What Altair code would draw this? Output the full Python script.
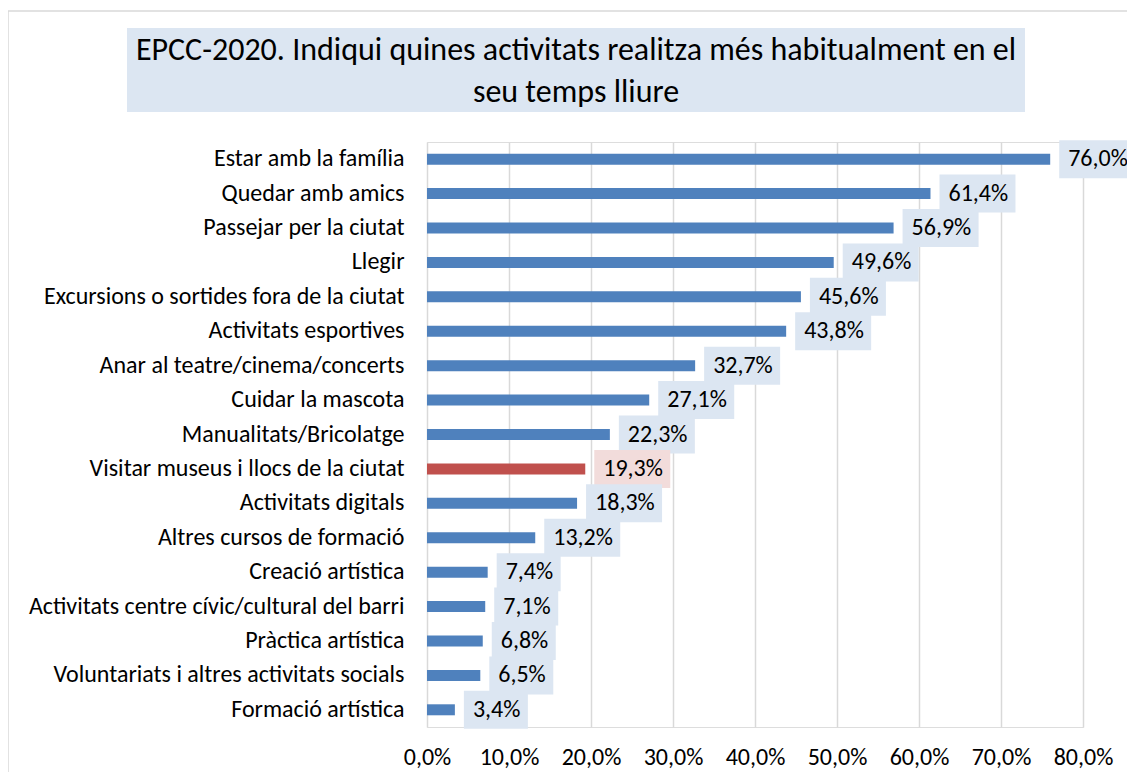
import altair as alt
import pandas as pd

categories = [
    "Estar amb la família",
    "Quedar amb amics",
    "Passejar per la ciutat",
    "Llegir",
    "Excursions o sortides fora de la ciutat",
    "Activitats esportives",
    "Anar al teatre/cinema/concerts\u00a0",
    "Cuidar la mascota",
    "Manualitats/Bricolatge",
    "Visitar museus i llocs de la ciutat",
    "Activitats digitals",
    "Altres cursos de formació",
    "Creació artística",
    "Activitats centre cívic/cultural del barri",
    "Pràctica artística",
    "Voluntariats i altres activitats socials",
    "Formació artística",
]
values = [76.0, 61.4, 56.9, 49.6, 45.6, 43.8, 32.7, 27.1, 22.3, 19.3, 18.3, 13.2, 7.4, 7.1, 6.8, 6.5, 3.4]
highlight = "Visitar museus i llocs de la ciutat"
x_ticks = [0, 10, 20, 30, 40, 50, 60, 70, 80]
title_lines = ["EPCC-2020. Indiqui quines activitats realitza més habitualment en el", "seu temps lliure"]

FONT = "Carlito, Lato, sans-serif"
BLUE = "#4f81bd"
RED = "#c0504d"
BOX = "#dce6f2"
BOX_HI = "#f2dcdb"
FS = 24

df = pd.DataFrame({"cat": categories, "val": values})
df["lab"] = df["val"].map(lambda v: f"{v:.1f}".replace(".", ",") + "%")

W, H = 656, 585

y_enc = alt.Y("cat:N", sort=categories, title=None,
              axis=alt.Axis(labelFontSize=FS, labelColor="#000", labelFont=FONT,
                            ticks=False, tickSize=0, domain=False, labelPadding=23,
                            labelLimit=420))
x_enc = alt.X("val:Q", title=None,
              scale=alt.Scale(domain=[0, 80], nice=False),
              axis=alt.Axis(values=x_ticks, labelFontSize=FS, labelColor="#000", labelFont=FONT,
                            ticks=False, domain=False, grid=True, gridColor="#d9d9d9",
                            gridWidth=1.5, labelPadding=18, labelFlush=False,
                            labelExpr="replace(format(datum.value, '.1f'), '.', ',') + '%'"))

base = alt.Chart(df)

bars = base.mark_bar(height=11).encode(
    y=y_enc, x=x_enc,
    color=alt.condition(alt.datum.cat == highlight, alt.value(RED), alt.value(BLUE)),
)

is_hi = alt.datum.cat == highlight
boxes_wide = base.transform_filter(alt.datum.val >= 10).mark_bar(height=38, xOffset=9, x2Offset=85).encode(
    y=alt.Y("cat:N", sort=categories), x="val:Q", x2="val:Q",
    color=alt.condition(is_hi, alt.value(BOX_HI), alt.value(BOX)),
)
boxes_narrow = base.transform_filter(alt.datum.val < 10).mark_bar(height=38, xOffset=9, x2Offset=73).encode(
    y=alt.Y("cat:N", sort=categories), x="val:Q", x2="val:Q",
    color=alt.value(BOX),
)

texts = base.mark_text(align="left", baseline="middle", dx=18, fontSize=FS, font=FONT, color="#000").encode(
    y=alt.Y("cat:N", sort=categories), x="val:Q", text="lab:N",
)

one = pd.DataFrame({"k": [0]})
border = alt.Chart(one).mark_rect(fill=None, stroke="#d9d9d9", strokeWidth=1.5).encode(
    x=alt.value(-419), x2=alt.value(800), y=alt.value(-131), y2=alt.value(700)
)
title_box = alt.Chart(one).mark_rect(fill=BOX).encode(
    x=alt.value(-300), x2=alt.value(598), y=alt.value(-114), y2=alt.value(-30)
)
t1 = alt.Chart(pd.DataFrame({"t": [title_lines[0]]})).mark_text(
    fontSize=32, font=FONT, color="#000", align="center", baseline="middle"
).encode(x=alt.value(149), y=alt.value(-92), text="t:N")
t2 = alt.Chart(pd.DataFrame({"t": [title_lines[1]]})).mark_text(
    fontSize=32, font=FONT, color="#000", align="center", baseline="middle"
).encode(x=alt.value(149), y=alt.value(-50), text="t:N")

chart = alt.layer(border, title_box, t1, t2, bars, boxes_wide, boxes_narrow, texts).properties(
    width=W, height=H,
    autosize=alt.AutoSizeParams(type="none"),
    padding={"left": 419, "top": 134, "right": 44, "bottom": 45},
).configure_view(stroke=None).configure(background="white")

chart.save("out.html", embed_options={"renderer": "svg", "actions": False})
